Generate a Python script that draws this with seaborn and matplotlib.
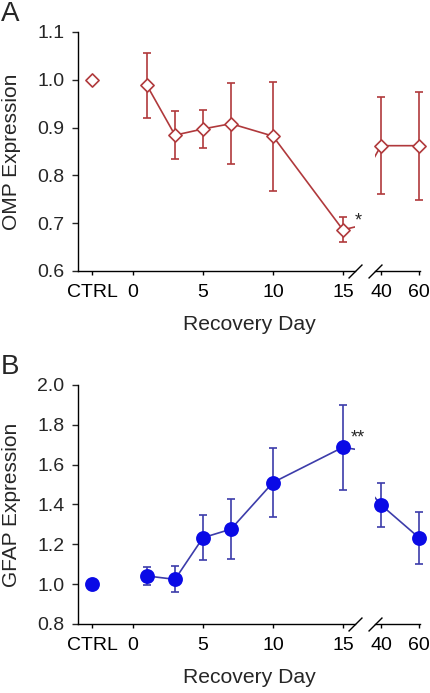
import matplotlib
matplotlib.use("Agg")
import matplotlib.pyplot as plt
import pandas as pd
import seaborn as sns

sns.set_style("ticks")
plt.rcParams['font.family'] = ['Liberation Sans', 'DejaVu Sans']

# 데이터
days = [1, 3, 5, 7, 10, 15, 40, 60]
ctrl_pos = -2.9
omp_ctrl = 1.00
omp_mean = [0.988, 0.884, 0.897, 0.908, 0.882, 0.686, 0.862, 0.862]
omp_err = [0.068, 0.050, 0.040, 0.085, 0.114, 0.026, 0.101, 0.113]
gfap_ctrl = 1.00
gfap_mean = [1.041, 1.024, 1.233, 1.276, 1.510, 1.687, 1.398, 1.233]
gfap_err = [0.046, 0.066, 0.113, 0.150, 0.175, 0.213, 0.112, 0.130]
left_ticks = [ctrl_pos, 0, 5, 10, 15]
left_labels = ['CTRL', '0', '5', '10', '15']
right_ticks = [40, 60]
right_labels = ['40', '60']

omp_line = '#b0393c'
gfap_line = '#3c3caa'
gfap_dot = '#0a0ae6'


def panel(fig, bottom, mean, err, ctrl, ylim, yticks, ylabel, letter, star,
          line_c, face_c, edge_c, marker, msize):
    df = pd.DataFrame({'day': days, 'val': mean, 'err': err})
    axl = fig.add_axes([0.180, bottom, 0.6436, 0.345])
    axr = fig.add_axes([0.870, bottom, 0.1044, 0.345], sharey=axl)

    for ax, lo, hi in [(axl, -3.96, 15.86), (axr, 36.84, 60.5)]:
        # 전체 선을 그리고 축 경계에서 잘리게 둠 (끊긴 축 효과)
        sns.lineplot(data=df, x='day', y='val', ax=ax, color=line_c,
                     linewidth=1.2, errorbar=None, sort=False)
        sub = df[(df['day'] >= lo) & (df['day'] <= hi)]
        eb = ax.errorbar(sub['day'], sub['val'], yerr=sub['err'], fmt='none',
                         ecolor=line_c, elinewidth=1.2, capsize=3, capthick=1.2,
                         zorder=2)
        for art in list(eb.lines[1]) + list(eb.lines[2]):
            art.set_clip_on(False)
        sns.scatterplot(data=sub, x='day', y='val', ax=ax, marker=marker, s=msize,
                        color=face_c, edgecolor=edge_c, linewidth=1.2,
                        zorder=3, clip_on=False)
        ax.set_xlim(lo, hi)
        ax.set_xlabel('')
        ax.spines['top'].set_visible(False)
        ax.spines['right'].set_visible(False)
        ax.tick_params(axis='x', length=3, width=1, pad=6.5, labelsize=14, colors='black')

    sns.scatterplot(x=[ctrl_pos], y=[ctrl], ax=axl, marker=marker, s=msize,
                    color=face_c, edgecolor=edge_c, linewidth=1.2, zorder=3,
                    clip_on=False)

    axl.set_ylim(*ylim)
    axl.set_yticks(yticks)
    axl.set_yticklabels([f'{v:.1f}' for v in yticks])
    axl.tick_params(axis='y', length=4, width=1, pad=5.5, labelsize=14)
    axl.set_xticks(left_ticks)
    axl.set_xticklabels(left_labels)
    axl.set_ylabel(ylabel, fontsize=15)
    axl.yaxis.set_label_coords(-0.205, 0.5)

    axr.spines['left'].set_visible(False)
    axr.tick_params(axis='y', left=False, labelleft=False)
    axr.set_ylabel('')
    axr.set_xticks(right_ticks)
    axr.set_xticklabels(right_labels)

    for a in (axl, axr):
        for s in a.spines.values():
            s.set_color('black')
            s.set_linewidth(1)

    # 끊김 표시
    kw = dict(marker=[(-1, -1), (1, 1)], markersize=10, linestyle='none',
              color='black', mec='black', mew=1, clip_on=False)
    axl.plot([1], [0], transform=axl.transAxes, **kw)
    axr.plot([0], [0], transform=axr.transAxes, **kw)

    axl.annotate(star, xy=(15, mean[5]), xytext=(15, 9), textcoords='offset pixels',
                 ha='center', va='center', fontsize=13, annotation_clip=False)

    fig.text(0.578, bottom - 0.0635, 'Recovery Day', ha='center', va='top',
             fontsize=15.2)
    fig.text(0.002, bottom + 0.345 + 0.045, letter, ha='left', va='top',
             fontsize=20)
    return axl, axr


fig = plt.figure(figsize=(4.31, 6.93), dpi=100)
panel(fig, 0.609, omp_mean, omp_err, omp_ctrl, (0.6, 1.1),
      [0.6, 0.7, 0.8, 0.9, 1.0, 1.1], 'OMP Expression', 'A', '*',
      omp_line, 'white', omp_line, 'D', 45)
panel(fig, 0.0996, gfap_mean, gfap_err, gfap_ctrl, (0.8, 2.0),
      [0.8, 1.0, 1.2, 1.4, 1.6, 1.8, 2.0], 'GFAP Expression', 'B', '**',
      gfap_line, gfap_dot, gfap_dot, 'o', 90)

plt.savefig('out.png', dpi=100)
